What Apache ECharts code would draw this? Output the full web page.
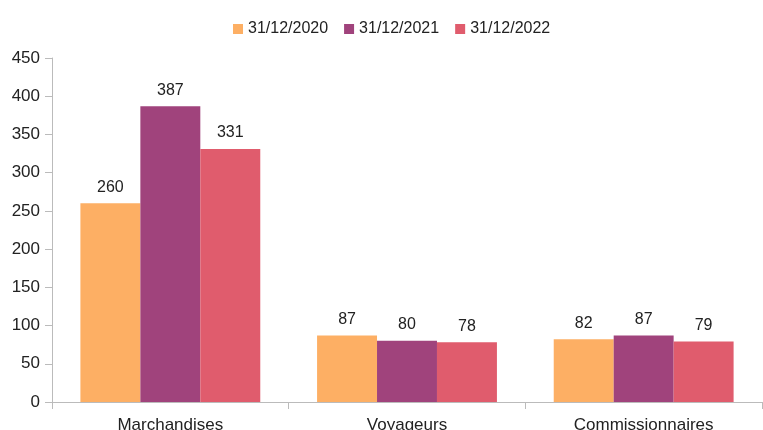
<!DOCTYPE html>
<html>
<head>
<meta charset="utf-8">
<script src="https://cdn.jsdelivr.net/npm/echarts@6/dist/echarts.min.js"></script>
<style>
  html, body { margin: 0; padding: 0; background: #fff; }
  #chart { width: 763px; height: 430px; }
</style>
</head>
<body>
<div id="chart"></div>
<script>
// Categories and yearly values
const categories = ['Marchandises', 'Voyageurs', 'Commissionnaires'];
const seriesNames = ['31/12/2020', '31/12/2021', '31/12/2022'];
const values2020 = [260, 87, 82];
const values2021 = [387, 80, 87];
const values2022 = [331, 78, 79];
const colors = ['#FDAF64', '#A0437C', '#E05C6D'];

const font = '"Liberation Sans", Arial, sans-serif';
const allValues = [values2020, values2021, values2022];

const chart = echarts.init(document.getElementById('chart'));
chart.setOption({
  animation: false,
  textStyle: { fontFamily: font },
  legend: {
    top: 16,
    left: 228,
    itemWidth: 10,
    itemHeight: 10,
    itemGap: 16,
    icon: 'rect',
    textStyle: { fontSize: 16, color: '#222', fontFamily: font },
    data: seriesNames
  },
  grid: { left: 52, right: 1, top: 58, bottom: 28, outerBoundsMode: 'none', containLabel: false },
  xAxis: {
    type: 'category',
    data: categories,
    axisLine: { lineStyle: { color: '#bbb' } },
    axisTick: { show: true, alignWithLabel: false, length: 7, lineStyle: { color: '#bbb' } },
    axisLabel: { fontSize: 17, color: '#222', margin: 15, fontFamily: font }
  },
  yAxis: {
    type: 'value',
    min: 0,
    max: 450,
    interval: 50,
    axisLine: { show: true, lineStyle: { color: '#bbb' } },
    axisTick: { show: true, length: 7, lineStyle: { color: '#bbb' } },
    splitLine: { show: false },
    axisLabel: { fontSize: 17, color: '#222', margin: 12, fontFamily: font }
  },
  series: seriesNames.map((name, i) => ({
    name: name,
    type: 'bar',
    data: allValues[i],
    barGap: '0%',
    barCategoryGap: '24%',
    itemStyle: { color: colors[i] },
    label: {
      show: true,
      position: 'top',
      distance: 8,
      fontSize: 16,
      color: '#222',
      fontFamily: font
    }
  }))
});
</script>
</body>
</html>
